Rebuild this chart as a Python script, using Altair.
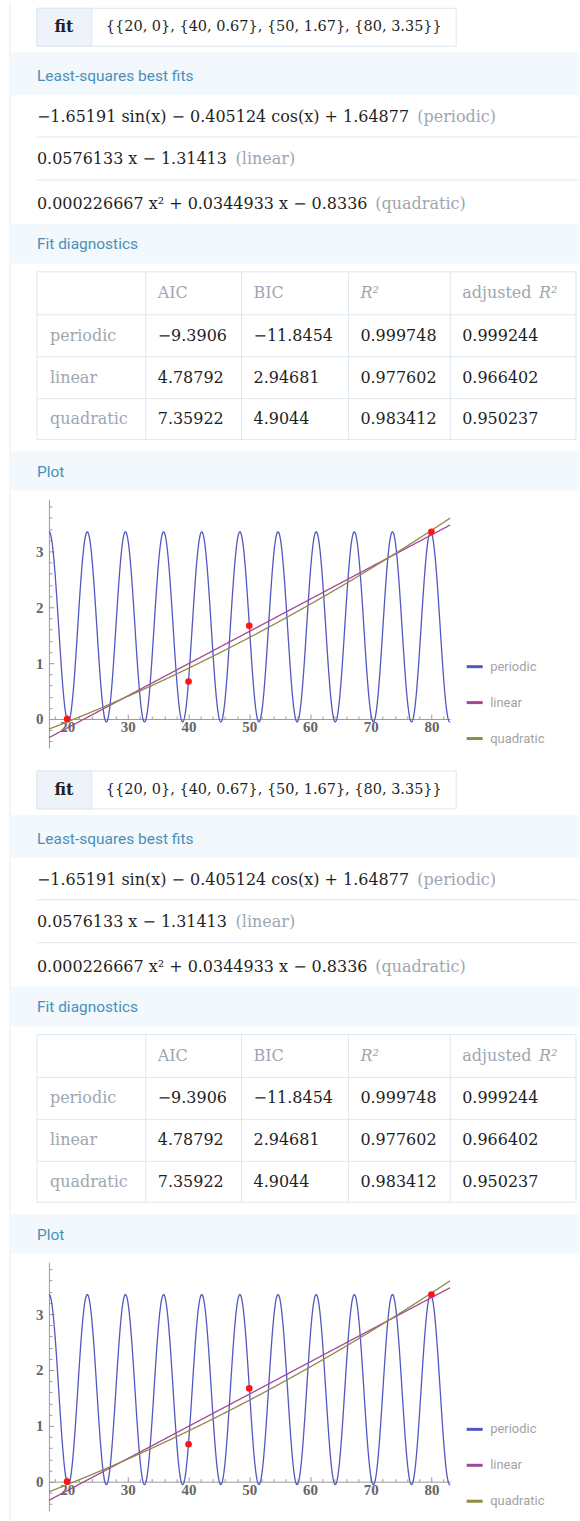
import altair as alt

# ---- input points ----------------------------------------------------------
point_x = [20, 40, 50, 80]
point_y = [0, 0.67, 1.67, 3.35]
input_text = "{{20, 0}, {40, 0.67}, {50, 1.67}, {80, 3.35}}"

# ---- fitted models ---------------------------------------------------------
models = ["periodic", "linear", "quadratic"]
model_colors = ["#5257c2", "#a3479b", "#8e8b44"]
formulas = [
    "\u22121.65191 sin(x) \u2212 0.405124 cos(x) + 1.64877",
    "0.0576133 x \u2212 1.31413",
    "0.000226667 x\u00b2 + 0.0344933 x \u2212 0.8336",
]
periodic_coef = [-1.65191, -0.405124, 1.64877]      # sin, cos, constant
linear_coef = [0.0576133, -1.31413]                 # x, constant
quadratic_coef = [0.000226667, 0.0344933, -0.8336]  # x^2, x, constant

# ---- fit diagnostics -------------------------------------------------------
diag_rows = ["periodic", "linear", "quadratic"]
diag_aic = ["\u22129.3906", "4.78792", "7.35922"]
diag_bic = ["\u221211.8454", "2.94681", "4.9044"]
diag_r2 = ["0.999748", "0.977602", "0.983412"]
diag_adj_r2 = ["0.999244", "0.966402", "0.950237"]

# ---- plot axes -------------------------------------------------------------
x_ticks = [20, 30, 40, 50, 60, 70, 80]
x_minor = [18, 22, 24, 26, 28, 32, 34, 36, 38, 42, 44, 46, 48, 52, 54, 56, 58,
           62, 64, 66, 68, 72, 74, 76, 78, 82]
y_ticks = [0, 1, 2, 3]
y_minor = [-0.4, -0.2, 0.2, 0.4, 0.6, 0.8, 1.2, 1.4, 1.6, 1.8, 2.2, 2.4, 2.6,
           2.8, 3.2, 3.4, 3.6, 3.8]
x_domain = [17, 83.1]
y_domain = [-0.52, 3.93]

# ---- layout / style --------------------------------------------------------
W = 580
POD = 764               # height of one result block
H = 2 * POD             # whole canvas
SERIF = "DejaVu Serif"
SANS = "Roboto"
DARK = "#1f1f1f"
MUTED = "#9ea6b0"
HEAD = "#4a8fba"
BAND = "#f2f8fc"
LINE = "#dde8f0"
AXIS = "#9a9a9a"

PX0, PX1 = 49, 451      # plot area, horizontal pixels
PY0, PY1 = 747, 498     # plot area, vertical pixels within a block (bottom, top)

one = alt.Data(values=[{}])
pts_data = alt.Data(values=[{"x": a, "y": b} for a, b in zip(point_x, point_y)])
xs = alt.Scale(domain=x_domain, range=[PX0, PX1], nice=False, zero=False)


def text(x, y, s, size=16, font=SERIF, color=DARK, weight="normal",
         style="normal", align="left"):
    return alt.Chart(one).mark_text(
        align=align, baseline="middle", font=font, fontSize=size,
        color=color, fontWeight=weight, fontStyle=style,
    ).encode(x=alt.value(x), y=alt.value(y), text=alt.value(s))


def box(x1, x2, y1, y2, fill, stroke=None):
    kw = dict(fill=fill)
    if stroke:
        kw.update(stroke=stroke, strokeWidth=1)
    return alt.Chart(one).mark_rect(**kw).encode(
        x=alt.value(x1), x2=alt.value(x2), y=alt.value(y1), y2=alt.value(y2))


def hline(x1, x2, y, color=LINE):
    return alt.Chart(one).mark_rule(color=color, strokeWidth=1).encode(
        x=alt.value(x1), x2=alt.value(x2), y=alt.value(y))


def vline(x, y1, y2, color=LINE):
    return alt.Chart(one).mark_rule(color=color, strokeWidth=1).encode(
        x=alt.value(x), y=alt.value(y1), y2=alt.value(y2))


def block(dy, value_name):
    """One result block (input, fits, diagnostics, plot) shifted down by dy."""
    layers = []
    layers.append(vline(10, dy, dy + POD, "#e6eef4"))

    # input box
    layers.append(box(37, 457, dy + 6, dy + 44, "white", LINE))
    layers.append(box(37, 92, dy + 6, dy + 44, "#edf3f9", LINE))
    layers.append(text(64, dy + 25, "fit", size=16, weight="bold", align="center"))
    layers.append(text(106, dy + 25, input_text, size=14.5))

    # least-squares section
    layers.append(box(10, W, dy + 50, dy + 93, BAND))
    layers.append(text(37, dy + 74, "Least-squares best fits", size=15.5, font=SANS, color=HEAD))
    eq_y = [115, 157, 202]
    note_x = [418, 236, 376]
    for f, m, y, nx in zip(formulas, models, eq_y, note_x):
        layers.append(text(37, dy + y, f, size=16))
        layers.append(text(nx, dy + y, f"({m})", size=16, color=MUTED))
    layers.append(hline(37, W, dy + 135))
    layers.append(hline(37, W, dy + 178))

    # diagnostics section
    layers.append(box(10, W, dy + 222, dy + 262, BAND))
    layers.append(text(37, dy + 242, "Fit diagnostics", size=15.5, font=SANS, color=HEAD))
    col_x = [37, 146, 242, 349, 451, 577]
    row_y = [dy + 270, dy + 313, dy + 355, dy + 397, dy + 438]
    for cx in col_x:
        layers.append(vline(cx, row_y[0], row_y[-1]))
    for ry in row_y:
        layers.append(hline(col_x[0], col_x[-1], ry))
    hy = (row_y[0] + row_y[1]) / 2
    layers.append(text(col_x[1] + 12, hy, "AIC", color=MUTED))
    layers.append(text(col_x[2] + 12, hy, "BIC", color=MUTED))
    layers.append(text(col_x[3] + 12, hy, "R\u00b2", color=MUTED, style="italic"))
    layers.append(text(col_x[4] + 12, hy, "adjusted", color=MUTED))
    layers.append(text(col_x[4] + 89, hy, "R\u00b2", color=MUTED, style="italic"))
    for i, name in enumerate(diag_rows):
        cy = (row_y[i + 1] + row_y[i + 2]) / 2
        layers.append(text(col_x[0] + 13, cy, name, color=MUTED))
        for j, vals in enumerate([diag_aic, diag_bic, diag_r2, diag_adj_r2]):
            layers.append(text(col_x[j + 1] + 12, cy, vals[i]))

    # plot section
    layers.append(box(10, W, dy + 450, dy + 489, BAND))
    layers.append(text(37, dy + 471, "Plot", size=15.5, font=SANS, color=HEAD))

    ys = alt.Scale(domain=y_domain, range=[dy + PY0, dy + PY1], nice=False, zero=False)
    zero_px = dy + PY0 - (0 - y_domain[0]) / (y_domain[1] - y_domain[0]) * (PY0 - PY1)

    ps, pc, p0 = periodic_coef
    l1, l0 = linear_coef
    q2, q1, q0 = quadratic_coef
    curves = alt.Chart(alt.sequence(x_domain[0], x_domain[1] + 0.01, 0.04, as_="x")).transform_calculate(
        periodic=f"{ps}*sin(datum.x) + {pc}*cos(datum.x) + {p0}",
        linear=f"{l1}*datum.x + {l0}",
        quadratic=f"{q2}*datum.x*datum.x + {q1}*datum.x + {q0}",
    ).transform_fold(models, as_=["model", value_name]).mark_line(strokeWidth=1.3).encode(
        x=alt.X("x:Q", scale=xs, axis=None),
        y=alt.Y(f"{value_name}:Q", scale=ys, axis=None),
        color=alt.Color(
            "model:N",
            scale=alt.Scale(domain=models, range=model_colors),
            sort=models,
            legend=alt.Legend(
                orient="none", legendX=466, legendY=dy + 656, title=None,
                symbolType="stroke", symbolStrokeWidth=3, symbolSize=256,
                labelFont=SANS, labelFontSize=13, labelColor="#a3a3a3",
                rowPadding=19, padding=0, labelOffset=6,
            ),
        ),
    )

    points = alt.Chart(pts_data).mark_circle(size=44, color="#ff1414", opacity=1).encode(
        x=alt.X("x:Q", scale=xs, axis=None),
        y=alt.Y("y:Q", scale=ys, axis=None),
    )

    def x_axis_layer(axis):
        return alt.Chart(pts_data).mark_point(opacity=0).encode(
            x=alt.X("x:Q", scale=xs, axis=axis))

    def y_axis_layer(axis):
        return alt.Chart(pts_data).mark_point(opacity=0).encode(
            y=alt.Y("y:Q", scale=ys, axis=axis))

    lab = dict(labelFont="Liberation Serif", labelFontSize=15, labelColor="#666666",
               labelFontWeight="bold", title=None, grid=False)
    x_lab = alt.Axis(orient="bottom", offset=-(H - zero_px), values=x_ticks, ticks=False,
                     domain=True, domainColor=AXIS, labelPadding=1, format="d", **lab)
    x_maj = alt.Axis(orient="top", offset=-zero_px, values=x_ticks, labels=False,
                     domain=False, tickSize=5, tickColor=AXIS, title=None, grid=False)
    x_min = alt.Axis(orient="top", offset=-zero_px, values=x_minor, labels=False,
                     domain=False, tickSize=3, tickColor=AXIS, title=None, grid=False)
    y_lab = alt.Axis(orient="left", offset=-PX0, values=y_ticks, ticks=False,
                     domain=True, domainColor=AXIS, labelPadding=6, format="d", **lab)
    y_maj = alt.Axis(orient="right", offset=-(W - PX0), values=y_ticks, labels=False,
                     domain=False, tickSize=5, tickColor=AXIS, title=None, grid=False)
    y_min = alt.Axis(orient="right", offset=-(W - PX0), values=y_minor, labels=False,
                     domain=False, tickSize=3, tickColor=AXIS, title=None, grid=False)

    layers += [
        x_axis_layer(x_lab), x_axis_layer(x_maj), x_axis_layer(x_min),
        y_axis_layer(y_lab), y_axis_layer(y_maj), y_axis_layer(y_min),
        curves, points,
    ]
    return layers


chart = alt.layer(*(block(0, "fit_a") + block(POD, "fit_b"))).resolve_scale(
    y="independent", color="independent"
).resolve_axis(x="independent", y="independent").properties(
    width=W, height=H, padding=0, background="white"
).configure_view(stroke=None)

chart.save("out.html", embed_options={"renderer": "svg", "actions": False})
